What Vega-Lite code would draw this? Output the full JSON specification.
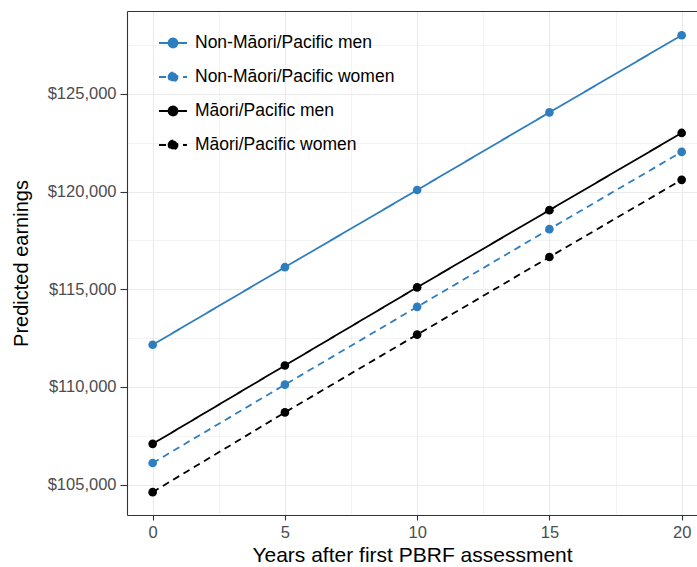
{
  "$schema": "https://vega.github.io/schema/vega-lite/v6.json",
  "width": 570,
  "height": 504,
  "autosize": {"type": "none"},
  "padding": {"left": 127, "top": 11, "right": 0, "bottom": 52},
  "config": {
    "font": "Liberation Sans",
    "view": {"stroke": null},
    "axis": {
      "domainColor": "#333333",
      "domainWidth": 1.1,
      "tickColor": "#333333",
      "tickWidth": 1.1,
      "labelColor": "#4d4d4d",
      "labelFontSize": 16.5,
      "labelFont": "Liberation Sans",
      "titleFont": "Liberation Sans",
      "titleFontWeight": "normal",
      "titleColor": "#000000",
      "gridColor": "#EBEBEB"
    },
    "legend": {
      "labelFontSize": 17.5,
      "labelFont": "Liberation Sans",
      "labelColor": "#000000",
      "labelLimit": 0,
      "symbolType": "M-1,0H1M-0.32,0A0.32,0.32 0 1,1 0.32,0A0.32,0.32 0 1,1 -0.32,0Z",
      "symbolSize": 784,
      "symbolStrokeWidth": 1.8,
      "rowPadding": 10,
      "labelOffset": 7,
      "padding": 0
    }
  },
  "data": {
    "values": [
      {"year": 0, "earnings": 112160, "group": "Non-Māori/Pacific men"},
      {"year": 5, "earnings": 116130, "group": "Non-Māori/Pacific men"},
      {"year": 10, "earnings": 120080, "group": "Non-Māori/Pacific men"},
      {"year": 15, "earnings": 124050, "group": "Non-Māori/Pacific men"},
      {"year": 20, "earnings": 128000, "group": "Non-Māori/Pacific men"},
      {"year": 0, "earnings": 106110, "group": "Non-Māori/Pacific women"},
      {"year": 5, "earnings": 110120, "group": "Non-Māori/Pacific women"},
      {"year": 10, "earnings": 114100, "group": "Non-Māori/Pacific women"},
      {"year": 15, "earnings": 118080, "group": "Non-Māori/Pacific women"},
      {"year": 20, "earnings": 122030, "group": "Non-Māori/Pacific women"},
      {"year": 0, "earnings": 107090, "group": "Māori/Pacific men"},
      {"year": 5, "earnings": 111100, "group": "Māori/Pacific men"},
      {"year": 10, "earnings": 115100, "group": "Māori/Pacific men"},
      {"year": 15, "earnings": 119050, "group": "Māori/Pacific men"},
      {"year": 20, "earnings": 123000, "group": "Māori/Pacific men"},
      {"year": 0, "earnings": 104620, "group": "Māori/Pacific women"},
      {"year": 5, "earnings": 108700, "group": "Māori/Pacific women"},
      {"year": 10, "earnings": 112680, "group": "Māori/Pacific women"},
      {"year": 15, "earnings": 116650, "group": "Māori/Pacific women"},
      {"year": 20, "earnings": 120600, "group": "Māori/Pacific women"}
    ]
  },
  "layer": [
    {
      "mark": {"type": "line", "strokeWidth": 1.8},
      "encoding": {
        "x": {
          "field": "year", "type": "quantitative",
          "scale": {"domain": [-0.97, 20.58], "nice": false, "zero": false},
          "axis": {
            "title": "Years after first PBRF assessment",
            "titleFontSize": 21,
            "values": [0, 2.5, 5, 7.5, 10, 12.5, 15, 17.5, 20],
            "labelExpr": "datum.value % 5 === 0 ? datum.label : ''",
            "tickOpacity": {"condition": {"test": "datum.value % 5 === 0", "value": 1}, "value": 0},
            "gridWidth": {"condition": {"test": "datum.value % 5 === 0", "value": 1.2}, "value": 0.6},
            "tickSize": 5,
            "labelPadding": 4,
            "titlePadding": 4
          }
        },
        "y": {
          "field": "earnings", "type": "quantitative",
          "scale": {"domain": [103450, 129240], "nice": false, "zero": false},
          "axis": {
            "title": "Predicted earnings",
            "titleFontSize": 20,
            "values": [105000, 107500, 110000, 112500, 115000, 117500, 120000, 122500, 125000, 127500],
            "labelExpr": "datum.value % 5000 === 0 ? format(datum.value, '$,.0f') : ''",
            "tickOpacity": {"condition": {"test": "datum.value % 5000 === 0", "value": 1}, "value": 0},
            "gridWidth": {"condition": {"test": "datum.value % 5000 === 0", "value": 1.2}, "value": 0.6},
            "tickSize": 7,
            "labelPadding": 4,
            "titlePadding": 16
          }
        },
        "color": {
          "field": "group", "type": "nominal",
          "scale": {
            "domain": ["Non-Māori/Pacific men", "Non-Māori/Pacific women", "Māori/Pacific men", "Māori/Pacific women"],
            "range": ["#2e7ebf", "#2e7ebf", "#000000", "#000000"]
          },
          "legend": {
            "title": null, "orient": "none", "legendX": 31, "legendY": 17,
            "encode": {"symbols": {"update": {"fill": {"scale": "color", "field": "value"}}}}
          }
        },
        "strokeDash": {
          "field": "group", "type": "nominal",
          "scale": {
            "domain": ["Non-Māori/Pacific men", "Non-Māori/Pacific women", "Māori/Pacific men", "Māori/Pacific women"],
            "range": [[1, 0], [7, 5], [1, 0], [7, 5]]
          },
          "legend": {"title": null, "orient": "none", "legendX": 31, "legendY": 17}
        }
      }
    },
    {
      "mark": {"type": "point", "filled": true, "size": 75, "opacity": 1},
      "encoding": {
        "x": {
          "field": "year", "type": "quantitative",
          "axis": {"orient": "top", "title": null, "labels": false, "ticks": false, "grid": false, "domain": true}
        },
        "y": {"field": "earnings", "type": "quantitative"},
        "color": {"field": "group", "type": "nominal", "legend": null}
      }
    }
  ],
  "resolve": {"axis": {"x": "independent"}}
}
